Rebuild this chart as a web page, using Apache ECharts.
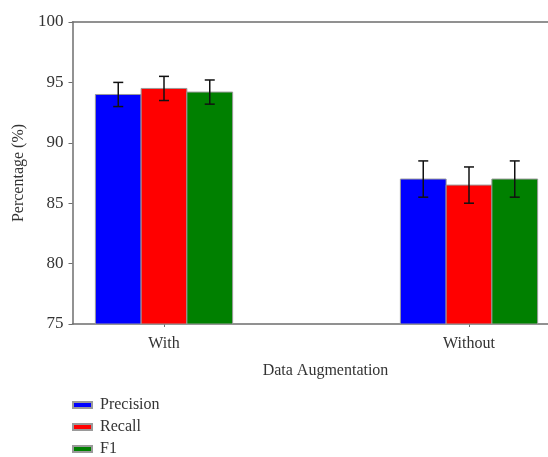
<!DOCTYPE html>
<html>
<head>
<meta charset="utf-8">
<script src="https://cdn.jsdelivr.net/npm/echarts@6/dist/echarts.min.js"></script>
<style>
html,body{margin:0;padding:0;background:#fff;}
#chart{width:548px;height:457px;}
</style>
</head>
<body>
<div id="chart"></div>
<script>
const categories = ['With', 'Without'];
const seriesNames = ['Precision', 'Recall', 'F1'];
const precision = [94.0, 87.0];
const recall = [94.5, 86.5];
const f1 = [94.2, 87.0];
const precisionErr = [1.0, 1.5];
const recallErr = [1.0, 1.5];
const f1Err = [1.0, 1.5];
const yTicks = [75, 80, 85, 90, 95, 100];
const xLabel = 'Data Augmentation';
const yLabel = 'Percentage (%)';

const colors = ['#0000ff', '#ff0000', '#008000'];
const values = [precision, recall, f1];
const errors = [precisionErr, recallErr, f1Err];
const barW = 0.15;
const offsets = [-barW, 0, barW];
const FONT = "'Liberation Serif', 'Times New Roman', serif";

const chart = echarts.init(document.getElementById('chart'), null, {renderer: 'canvas'});

function makeRender(si) {
  return function (params, api) {
    const xi = api.value(0), v = api.value(1), e = api.value(2);
    const c = xi + offsets[si];
    const p0 = api.coord([c - barW / 2, v]);
    const p1 = api.coord([c + barW / 2, yTicks[0]]);
    const top = api.coord([c, v + e]);
    const bot = api.coord([c, v - e]);
    const cap = 5;
    const lineStyle = {stroke: '#111', lineWidth: 1.5};
    return {
      type: 'group',
      children: [
        {type: 'rect', shape: {x: p0[0], y: p0[1], width: p1[0] - p0[0], height: p1[1] - p0[1]},
         style: {fill: colors[si], stroke: '#9a9a9a', lineWidth: 1}},
        {type: 'line', shape: {x1: top[0], y1: top[1], x2: bot[0], y2: bot[1]}, style: lineStyle},
        {type: 'line', shape: {x1: top[0] - cap, y1: top[1], x2: top[0] + cap, y2: top[1]}, style: lineStyle},
        {type: 'line', shape: {x1: bot[0] - cap, y1: bot[1], x2: bot[0] + cap, y2: bot[1]}, style: lineStyle}
      ]
    };
  };
}

const series = seriesNames.map((name, si) => ({
  name: name,
  type: 'custom',
  renderItem: makeRender(si),
  itemStyle: {color: colors[si], borderColor: '#9a9a9a', borderWidth: 1},
  encode: {x: 0, y: 1},
  data: categories.map((c, i) => [i, values[si][i], errors[si][i]])
}));

const axisLineStyle = {color: '#6e6e6e', width: 1.5};

chart.setOption({
  animation: false,
  backgroundColor: '#fff',
  grid: {left: 72.5, top: 22, width: 488, height: 302, outerBoundsMode: 'none', containLabel: false},
  legend: {
    orient: 'vertical',
    left: 67,
    top: 392,
    height: 80,
    icon: 'rect',
    itemWidth: 19,
    itemHeight: 6,
    itemGap: 6,
    data: seriesNames,
    textStyle: {fontFamily: FONT, fontSize: 16, color: '#333', lineHeight: 16, padding: [0, 0, 0, 3]}
  },
  xAxis: [{
    type: 'value',
    min: -0.3,
    max: 1.3,
    name: xLabel,
    nameLocation: 'middle',
    nameGap: 39,
    nameTextStyle: {fontFamily: FONT, fontSize: 16, color: '#333', padding: [0, 0, 0, 18]},
    axisLine: {show: true, onZero: false, lineStyle: axisLineStyle},
    axisTick: {show: true, length: 3, customValues: [0, 1], lineStyle: {color: '#6e6e6e'}},
    axisLabel: {customValues: [0, 1], formatter: v => categories[Math.round(v)] || '',
      fontFamily: FONT, fontSize: 16, color: '#333', margin: 12},
    splitLine: {show: false}
  }, {
    type: 'value',
    position: 'top',
    min: -0.3,
    max: 1.3,
    axisLine: {show: true, onZero: false, lineStyle: axisLineStyle},
    axisTick: {show: false},
    axisLabel: {show: false},
    splitLine: {show: false}
  }],
  yAxis: {
    type: 'value',
    min: yTicks[0],
    max: yTicks[yTicks.length - 1],
    interval: 5,
    name: yLabel,
    nameLocation: 'middle',
    nameGap: 46,
    nameTextStyle: {fontFamily: FONT, fontSize: 16, color: '#333'},
    axisLine: {show: true, onZero: false, lineStyle: axisLineStyle},
    axisTick: {show: true, length: 4, lineStyle: {color: '#6e6e6e'}},
    axisLabel: {fontFamily: FONT, fontSize: 17, color: '#333', margin: 9},
    splitLine: {show: false}
  },
  series: series
});
</script>
</body>
</html>
